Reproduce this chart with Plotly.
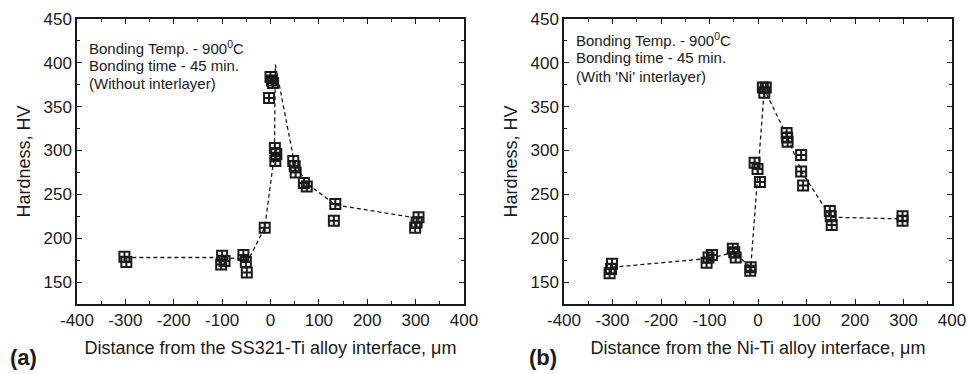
import plotly.graph_objects as go

W, H = 967, 374

# ---- Data: panel (a) SS321-Ti (without interlayer) ----
a_pts_x = [-302, -298, -100, -95, -102, -56, -51, -49, -12, 0, 3, 5, -3, 9, 12, 10,
           47, 50, 52, 69, 75, 134, 131, 306, 302, 299]
a_pts_y = [179, 173, 180, 174, 170, 181, 173, 161, 212, 384, 380, 377, 360, 303, 296, 288,
           288, 282, 275, 263, 259, 239, 220, 224, 218, 212]
a_line_x = [-300, -100, -45, -12, 8, 10, 48, 72, 134, 303]
a_line_y = [178, 178, 176, 212, 295, 398, 290, 264, 238, 223]

# ---- Data: panel (b) Ni-Ti (with Ni interlayer) ----
b_pts_x = [-301, -303, -306, -95, -102, -106, -52, -49, -46, -15, -16, -7, -1, 4,
           10, 16, 13, 59, 60, 61, 89, 89, 93, 148, 150, 152, 298, 298]
b_pts_y = [171, 165, 160, 181, 178, 172, 188, 184, 178, 167, 163, 286, 279, 264,
           372, 372, 366, 320, 315, 310, 295, 276, 260, 231, 225, 215, 225, 220]
b_line_x = [-300, -100, -50, -15, 13, 60, 90, 150, 300]
b_line_y = [167, 177, 184, 167, 370, 316, 276, 224, 222]

x_ticks = [-400, -300, -200, -100, 0, 100, 200, 300, 400]
x_ticktext = ["-400", "-300", "-200", "-100", "0", "100", "200", "300", "400"]
y_ticks = [150, 200, 250, 300, 350, 400, 450]

x_title_a = "Distance from the SS321-Ti alloy interface, μm"
x_title_b = "Distance from the Ni-Ti alloy interface, μm"
y_title = "Hardness, HV"
note_a = ["Bonding Temp. - 900<sup>0</sup>C", "Bonding time - 45 min.", "(Without interlayer)"]
note_b = ["Bonding Temp. - 900<sup>0</sup>C", "Bonding time - 45 min.", "(With 'Ni' interlayer)"]

FONT = "Liberation Sans, Arial, sans-serif"
INK = "#1a1a1a"

def px(x):
    return x / W

def py(y):
    return 1 - y / H

fig = go.Figure()

marker = dict(symbol="square-cross-open", size=10, color=INK, line=dict(width=2, color=INK))
linestyle = dict(color=INK, width=1.3, dash="4px,3px")

fig.add_trace(go.Scatter(x=a_line_x, y=a_line_y, mode="lines", line=linestyle,
                         xaxis="x", yaxis="y", showlegend=False))
fig.add_trace(go.Scatter(x=a_pts_x, y=a_pts_y, mode="markers", marker=marker,
                         xaxis="x", yaxis="y", showlegend=False))
fig.add_trace(go.Scatter(x=b_line_x, y=b_line_y, mode="lines", line=linestyle,
                         xaxis="x2", yaxis="y2", showlegend=False))
fig.add_trace(go.Scatter(x=b_pts_x, y=b_pts_y, mode="markers", marker=marker,
                         xaxis="x2", yaxis="y2", showlegend=False))

top, bottom = 19, 304
ydom = [py(bottom), py(top)]

def xaxis_cfg(dom, title, anchor):
    return dict(domain=dom, range=[-400, 400], tickvals=x_ticks, ticktext=x_ticktext,
                ticks="inside", ticklen=5, automargin=False,
                tickwidth=1.3, tickcolor=INK, showline=True, linecolor=INK, linewidth=1.5,
                mirror="ticks", showgrid=False, zeroline=False, anchor=anchor,
                minor=dict(ticks="inside", ticklen=3, dtick=50, tick0=0, tickcolor=INK, tickwidth=1.2),
                tickfont=dict(family=FONT, size=17, color=INK),
                title=dict(text=title, font=dict(family=FONT, size=18, color=INK), standoff=12))

def yaxis_cfg(anchor, title_standoff):
    return dict(domain=ydom, range=[125, 450], tickvals=y_ticks, ticks="inside", ticklen=5,
                automargin=False,
                tickwidth=1.3, tickcolor=INK, showline=True, linecolor=INK, linewidth=1.5,
                mirror="ticks", showgrid=False, zeroline=False, anchor=anchor,
                minor=dict(ticks="inside", ticklen=3, dtick=25, tick0=0, tickcolor=INK, tickwidth=1.2),
                tickfont=dict(family=FONT, size=17, color=INK),
                title=dict(text=y_title, font=dict(family=FONT, size=18, color=INK), standoff=title_standoff))

fig.update_layout(
    width=W, height=H,
    margin=dict(l=0, r=0, t=0, b=0, autoexpand=False),
    paper_bgcolor="white", plot_bgcolor="white",
    xaxis=xaxis_cfg([px(77), px(464)], x_title_a, "y"),
    yaxis=yaxis_cfg("x", 8),
    xaxis2=xaxis_cfg([px(564), px(952)], x_title_b, "y2"),
    yaxis2=yaxis_cfg("x2", 8),
)

def add_note(lines, x0, ys):
    for t, yy in zip(lines, ys):
        fig.add_annotation(text=t, x=px(x0), y=py(yy), xref="paper", yref="paper",
                           xanchor="left", yanchor="middle", showarrow=False,
                           font=dict(family=FONT, size=15, color=INK))

add_note(note_a, 87, [47, 65, 83])
add_note(note_b, 574, [40, 58, 77])

fig.add_annotation(text="<b>(a)</b>", x=px(8), y=py(357), xref="paper", yref="paper",
                   xanchor="left", yanchor="middle", showarrow=False,
                   font=dict(family=FONT, size=22, color=INK))
fig.add_annotation(text="<b>(b)</b>", x=px(527), y=py(357), xref="paper", yref="paper",
                   xanchor="left", yanchor="middle", showarrow=False,
                   font=dict(family=FONT, size=22, color=INK))

fig.write_html("out.html")
